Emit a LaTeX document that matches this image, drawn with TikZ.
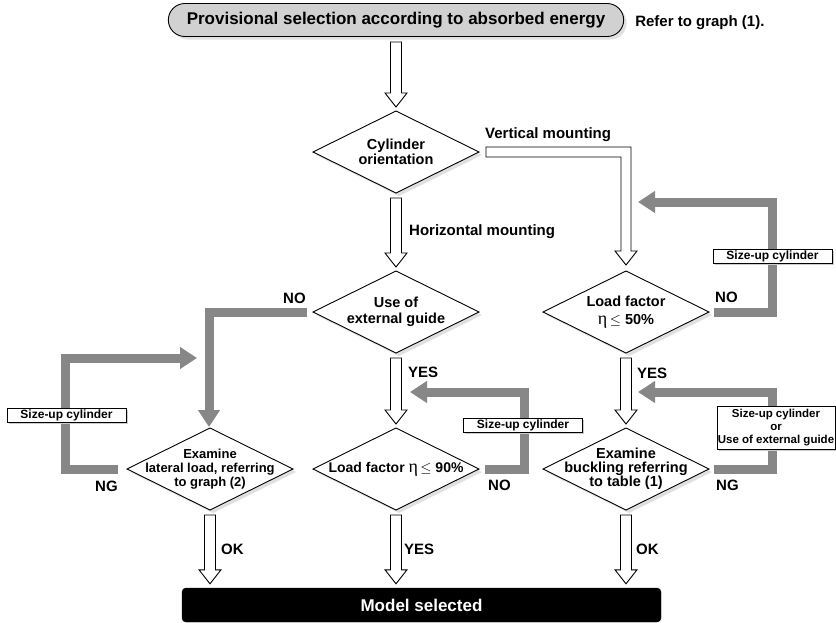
\documentclass[tikz,border=0pt]{standalone}
\usepackage{fontspec}
\setmainfont{Liberation Sans}
\newfontfamily\greekfont{Liberation Serif}
\usetikzlibrary{positioning,arrows.meta,shapes.geometric,shapes.misc,calc,shadows}

\newcommand\etasym{{\greekfont\mdseries\fontsize{18}{15}\selectfont η}}
\newcommand\hollowdown[2]{%
  \draw[hollow] let \p1=($(#1.south)+(0,5)$), \p2=($(#2.north)+(0,-4)$) in
    (\x1-5.5pt,\y1) -- (\x1-5.5pt,\y2+14pt) -- (\x1-11pt,\y2+14pt) -- (\x1,\y2)
    -- (\x1+11pt,\y2+14pt) -- (\x1+5.5pt,\y2+14pt) -- (\x1+5.5pt,\y1) -- cycle;}

\begin{document}
\begin{tikzpicture}[x=1pt, y=-1pt,
  dec/.style={diamond, draw, fill=white, line width=0.9pt, minimum width=166pt,
              minimum height=82pt, inner sep=0pt, outer sep=0pt,
              drop shadow={shadow xshift=3pt, shadow yshift=-3pt, fill=black!12, opacity=1}},
  txt/.style={font=\bfseries\fontsize{14.5}{15.5}\selectfont, align=center, inner sep=0pt},
  lbl/.style={font=\bfseries\fontsize{15}{15}\selectfont, inner sep=0pt, anchor=west},
  note/.style={draw, fill=white, line width=0.7pt, font=\bfseries\fontsize{12}{12.5}\selectfont,
               inner sep=0pt, minimum width=119pt, minimum height=14pt, align=center,
               drop shadow={shadow xshift=1.5pt, shadow yshift=-1.5pt, fill=black!20, opacity=1}},
  hollow/.style={draw, fill=white, line width=0.9pt, line join=miter},
  back/.style={draw=black!47, line width=9pt, line join=miter,
               -{Triangle[length=17pt,width=21pt]}},
]
\useasboundingbox (0,0) rectangle (836,622);

% start and end
\node[rounded rectangle, draw, fill=black!18, line width=0.9pt, minimum width=462pt,
      minimum height=33pt, font=\bfseries\fontsize{17}{17}\selectfont,
      drop shadow={shadow xshift=3pt, shadow yshift=-3pt, fill=black!12, opacity=1}]
  (top) at (396,20) {Provisional selection according to absorbed energy};
\node[lbl, right=11pt of top, yshift=-3pt] (ref) {Refer to graph (1).};
\node[draw, fill=black, rounded corners=4pt, minimum width=479pt, minimum height=34pt,
      text=white, font=\bfseries\fontsize{17}{17}\selectfont]
  (sel) at (421.5,605) {Model selected};

% decisions
\node[dec] (d1) at (396,152) {};
\node[dec, below=78pt of d1] (d2) {};
\node[dec, below=75pt of d2] (d3) {};
\node[dec, right=64pt of d2] (d5) {};
\node[dec, right=64pt of d3] (d6) {};
\node[dec, left=20pt of d3]  (d4) {};

\node[txt] at (d1) {Cylinder\\orientation};
\node[txt] at (d2) {Use of\\external guide};
\node[txt, font=\bfseries\fontsize{14}{15}\selectfont] at (d3) {Load factor \etasym\,$\leq$ 90\%};
\node[txt, font=\bfseries\fontsize{13}{14}\selectfont] at (d4) {Examine\\lateral load, referring\\to graph (2)};
\node[txt, font=\bfseries\fontsize{14.5}{17.5}\selectfont] at (d5) {Load factor\\\etasym\,$\leq$ 50\%};
\node[txt, font=\bfseries\fontsize{14.5}{14}\selectfont] at (d6) {Examine\\buckling referring\\to table (1)};

% hollow flow arrows
\hollowdown{top}{d1}
\hollowdown{d1}{d2}
\hollowdown{d2}{d3}
\hollowdown{d5}{d6}
\hollowdown{d4}{sel}
\hollowdown{d3}{sel}
\hollowdown{d6}{sel}
\draw[hollow] let \p1=($(d1.east)+(7,0)$), \p2=($(d5.north)+(0,-6)$) in
  (\x1,\y1+5pt) -- (\x2+5pt,\y1+5pt) -- (\x2+5pt,\y2+14pt) -- (\x2+11pt,\y2+14pt)
  -- (\x2,\y2) -- (\x2-11pt,\y2+14pt) -- (\x2-5pt,\y2+14pt) -- (\x2-5pt,\y1-5pt)
  -- (\x1,\y1-5pt) -- cycle;

% feedback loops
\coordinate (t1) at (638,202);
\coordinate (t2) at (638,392);
\coordinate (t3) at (410,392);
\coordinate (t5) at (197,358);
\draw[back] ($(d5.east)+(5,0)$) -- ++(58,0) |- (t1);
\draw[back] ($(d6.east)+(5,0)$) -- ++(58,0) |- (t2);
\draw[back] ($(d3.east)+(6,0)$) -- ++(39,0) |- (t3);
\draw[back] ($(d2.west)+(-6,0)$) -| ($(d4.north)+(-1,-1)$);
\draw[back] ($(d4.west)+(-9,0)$) -- ++(-53,0) |- (t5);

\node[note] (n1) at (66.5,415) {Size-up cylinder};
\node[note] (n2) at (523,425) {Size-up cylinder};
\node[note] (n3) at (772.5,256.5) {Size-up cylinder};
\node[note, minimum width=118pt, minimum height=43pt,
      font=\bfseries\fontsize{11.5}{13}\selectfont] (n4) at (776,427.5)
  {Size-up cylinder\\or\\Use of external guide};

% branch labels
\node[lbl] at (485,135) {Vertical mounting};
\node[lbl] at (409,232) {Horizontal mounting};
\node[lbl] at (283,298) {NO};
\node[lbl] at (408,372) {YES};
\node[lbl] at (637,373) {YES};
\node[lbl] at (715,297) {NO};
\node[lbl] at (488,485) {NO};
\node[lbl] at (716,485) {NG};
\node[lbl] at (95,486)  {NG};
\node[lbl] at (221,549) {OK};
\node[lbl] at (404,549) {YES};
\node[lbl] at (636,549) {OK};
\end{tikzpicture}
\end{document}
